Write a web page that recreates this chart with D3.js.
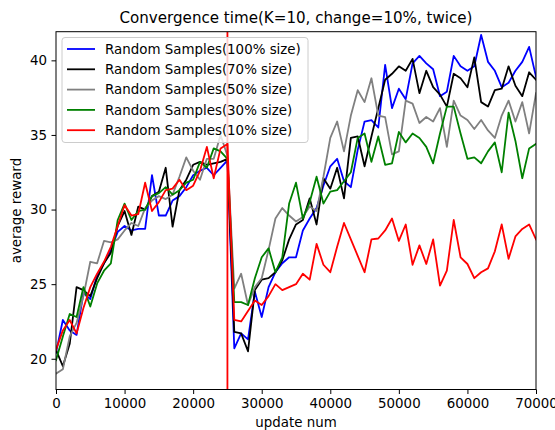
<!DOCTYPE html>
<html><head><meta charset="utf-8">
<script src="https://cdn.jsdelivr.net/npm/d3@7"></script>
<style>body{margin:0;background:#fff} text{font-family:"DejaVu Sans",sans-serif;fill:#000}</style>
</head><body><svg id="c" width="555" height="430"></svg>
<script>
const steps = d3.range(0, 71).map(k => k * 1000);
const seriesNames = ["Random Samples(100% size)","Random Samples(70% size)","Random Samples(50% size)","Random Samples(30% size)","Random Samples(10% size)"];
const seriesColors = ["#0000ff","#000000","#808080","#008000","#ff0000"];
const blue = [20.4,22.6,21.9,21.6,24.4,24.0,25.6,26.4,27.3,28.5,28.9,28.6,28.7,28.7,32.3,29.6,29.6,30.6,30.9,31.5,32.3,32.6,32.8,32.3,32.8,33.3,
  20.7,21.7,21.3,24.5,22.8,24.8,25.8,26.4,26.8,26.8,28.6,29.4,30.1,31.6,32.9,33.4,31.9,31.5,34.0,35.9,36.0,35.5,39.7,36.8,38.1,37.4,39.8,40.3,39.8,39.4,37.6,37.9,40.3,39.6,39.3,39.6,41.7,39.9,39.3,38.2,38.5,39.3,39.9,40.9,38.9];
const black = [20.6,19.5,21.0,24.8,24.6,24.2,25.4,26.4,27.1,28.9,29.9,28.3,30.2,30.0,30.9,31.2,32.8,28.85,31.3,32.0,33.0,33.2,33.0,33.1,33.2,33.4,
  21.8,21.7,20.5,24.6,25.3,25.4,25.8,26.6,28.0,29.0,29.3,30.75,29.0,32.1,31.4,32.8,30.75,34.8,34.9,32.9,34.9,36.8,38.7,39.1,39.6,39.3,40.1,37.8,39.3,38.2,37.7,36.9,39.1,38.8,38.2,40.2,37.2,36.9,38.0,38.1,39.6,38.3,37.6,39.2,38.7];
const gray = [19.0,19.3,21.5,22.4,24.2,26.5,26.4,27.9,27.8,28.0,28.6,29.1,28.9,30.1,30.6,30.9,30.7,31.0,32.2,33.5,32.6,32.0,33.4,33.4,35.0,33.6,
  24.7,25.7,23.6,24.8,25.4,27.3,29.4,30.1,29.6,29.2,29.5,30.2,29.9,32.2,34.8,35.9,33.9,36.3,38.0,37.2,38.8,36.3,36.2,33.7,33.9,37.3,37.1,35.8,36.2,35.9,36.8,34.2,37.3,36.3,36.0,35.4,36.0,35.3,34.8,36.3,37.3,35.9,37.2,35.1,37.8];
const green = [19.9,21.5,23.0,22.8,24.8,23.5,25.05,25.9,26.4,29.3,30.4,29.3,29.9,30.0,30.9,31.1,31.5,31.0,31.3,31.8,32.0,33.2,32.8,34.1,33.9,33.4,
  23.8,23.8,23.6,25.4,26.8,27.4,25.8,26.8,30.4,31.8,29.4,30.5,32.2,30.4,31.2,31.3,31.9,32.5,34.8,35.1,33.2,34.9,33.0,33.1,35.2,34.5,35.1,34.8,34.2,33.1,35.1,36.9,36.9,35.1,33.4,33.5,33.1,33.9,34.5,32.5,36.5,34.6,32.1,34.1,34.4];
const red = [20.6,21.9,22.6,21.7,23.4,24.8,25.7,26.5,27.5,28.9,30.3,29.6,29.7,31.8,29.9,30.5,31.3,31.4,32.0,31.3,31.6,32.6,34.2,32.1,34.1,34.4,
  22.6,22.5,23.2,23.9,23.6,24.2,25.0,24.6,24.8,25.0,25.7,25.3,27.7,26.3,25.8,27.5,29.1,28.0,26.9,25.8,28.0,28.06,28.6,29.4,27.9,29.0,26.3,27.6,26.35,28.0,24.9,25.9,29.3,26.8,26.35,25.4,25.8,26.06,27.2,29.0,26.7,28.2,28.7,29.0,28.0];
const changePoint = 25000;
const xTicks = [0,10000,20000,30000,40000,50000,60000,70000];
const yTicks = [20,25,30,35,40];
const title = "Convergence time(K=10, change=10%, twice)";
const xLabel = "update num", yLabel = "average reward";

const data = [blue, black, gray, green, red];
const svg = d3.select("#c");
const L = 56, R = 536, T = 31.7, B = 389.5;
const x = d3.scaleLinear().domain([0, 70000]).range([L, R]);
const y = d3.scaleLinear().domain([17.94, 41.92]).range([B, T]);

svg.append("defs").append("clipPath").attr("id","clip").append("rect")
  .attr("x", L).attr("y", T).attr("width", R-L).attr("height", B-T);

const line = d3.line().x((d,i) => x(steps[i])).y(d => y(d));
const g = svg.append("g").attr("clip-path","url(#clip)");
data.forEach((s, i) => {
  g.append("path").attr("d", line(s)).attr("fill","none")
    .attr("stroke", seriesColors[i]).attr("stroke-width", 1.8).attr("stroke-linejoin","round").attr("stroke-linecap","square");
});
g.append("line").attr("x1", x(changePoint)).attr("x2", x(changePoint)).attr("y1", T).attr("y2", B)
  .attr("stroke","#ff0000").attr("stroke-width",1.8);

// axes
const xa = svg.append("g").attr("transform", `translate(0,${B})`)
  .call(d3.axisBottom(x).tickValues(xTicks).tickFormat(d3.format("d")).tickSize(4.5).tickPadding(4.5));
const ya = svg.append("g").attr("transform", `translate(${L},0)`)
  .call(d3.axisLeft(y).tickValues(yTicks).tickSize(4.5).tickPadding(4.5));
[xa, ya].forEach(a => {
  a.selectAll("text").style("font-family","DejaVu Sans").style("font-size","13.4px").attr("fill","#000");
  a.selectAll("line").attr("stroke","#000").attr("stroke-width",1);
  a.select(".domain").remove();
});
svg.append("rect").attr("x", L).attr("y", T).attr("width", R-L).attr("height", B-T)
  .attr("fill","none").attr("stroke","#000").attr("stroke-width",1);

svg.append("text").attr("x", (L+R)/2).attr("y", 22.5).attr("text-anchor","middle")
  .style("font-size","15.1px").text(title);
svg.append("text").attr("x", (L+R)/2).attr("y", 427).attr("text-anchor","middle")
  .style("font-size","13.4px").text(xLabel);
svg.append("text").attr("transform", `translate(21,${(T+B)/2}) rotate(-90)`).attr("text-anchor","middle")
  .style("font-size","13.4px").text(yLabel);

// legend
const lg = svg.append("g");
lg.append("rect").attr("x", 62).attr("y", 37.5).attr("width", 246).attr("height", 105).attr("rx", 3)
  .attr("fill","#fff").attr("fill-opacity",0.8).attr("stroke","#cccccc").attr("stroke-width",1);
seriesNames.forEach((n, i) => {
  const yy = 49 + i * 20.3;
  lg.append("line").attr("x1", 67).attr("x2", 95).attr("y1", yy).attr("y2", yy)
    .attr("stroke", seriesColors[i]).attr("stroke-width", 1.8);
  lg.append("text").attr("x", 105).attr("y", yy + 4.8).style("font-size","13.4px").text(n);
});
</script></body></html>
